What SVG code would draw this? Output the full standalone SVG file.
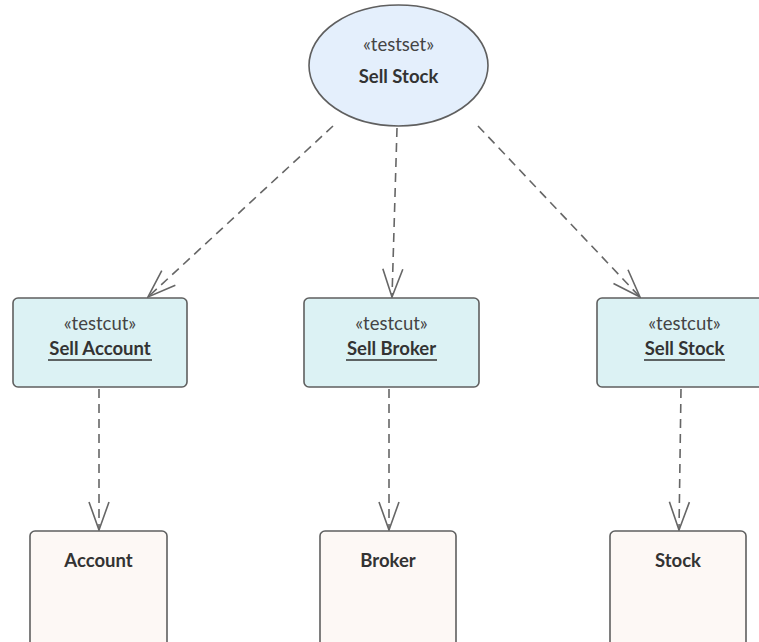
<svg xmlns="http://www.w3.org/2000/svg" width="759" height="642" viewBox="0 0 759 642">
<defs>
<marker id="open" viewBox="0 0 30 24" refX="29" refY="12" markerWidth="30" markerHeight="24" markerUnits="userSpaceOnUse" orient="auto">
<path d="M1,2 L29,12 L1,22" fill="none" stroke="#666" stroke-width="1.6"/>
</marker>
<style>
.ell{fill:#E4EFFC;stroke:#5f5f5f;stroke-width:1.6}
.cut{fill:#DCF2F4;stroke:#5f5f5f;stroke-width:1.6}
.cls{fill:#FDF8F5;stroke:#5f5f5f;stroke-width:1.6}
.st{font-family:Lato,"Open Sans","Liberation Sans",sans-serif;font-size:18.5px;fill:#444;text-anchor:middle}
.nm{font-family:Lato,"Open Sans","Liberation Sans",sans-serif;font-size:18.5px;font-weight:bold;fill:#333;text-anchor:middle}
.ul{stroke:#333;stroke-width:1.5}
.dep{fill:none;stroke:#666;stroke-width:1.6;stroke-dasharray:9,6;marker-end:url(#open)}
</style>
</defs>
<rect width="759" height="642" fill="#fff"/>
<g id="connectors">
<line class="dep" x1="333" y1="126" x2="148" y2="297"/>
<line class="dep" x1="397" y1="128" x2="392" y2="297"/>
<line class="dep" x1="478" y1="126" x2="640" y2="297"/>
<line class="dep" x1="99" y1="389" x2="99" y2="530"/>
<line class="dep" x1="389" y1="389" x2="389" y2="530"/>
<line class="dep" x1="681" y1="389" x2="679" y2="530"/>
</g>
<g id="testset-sell-stock">
<ellipse class="ell" cx="398.5" cy="65.5" rx="89.5" ry="60.5"/>
<text class="st" x="398.5" y="51">«testset»</text>
<text class="nm" x="398.5" y="83">Sell Stock</text>
</g>
<g id="testcut-sell-account">
<rect class="cut" x="13" y="298" width="174" height="89" rx="5"/>
<text class="st" x="100" y="330">«testcut»</text>
<text class="nm" x="100" y="355">Sell Account</text>
<line class="ul" x1="48" y1="360" x2="152" y2="360"/>
</g>
<g id="testcut-sell-broker">
<rect class="cut" x="304" y="298" width="175" height="89" rx="5"/>
<text class="st" x="391.5" y="330">«testcut»</text>
<text class="nm" x="391.5" y="355">Sell Broker</text>
<line class="ul" x1="346" y1="360" x2="437" y2="360"/>
</g>
<g id="testcut-sell-stock">
<rect class="cut" x="597" y="298" width="175" height="89" rx="5"/>
<text class="st" x="684.5" y="330">«testcut»</text>
<text class="nm" x="684.5" y="355">Sell Stock</text>
<line class="ul" x1="644" y1="360" x2="725" y2="360"/>
</g>
<g id="class-account">
<rect class="cls" x="30" y="531" width="137" height="120" rx="5"/>
<text class="nm" x="98.5" y="567">Account</text>
</g>
<g id="class-broker">
<rect class="cls" x="320" y="531" width="136" height="120" rx="5"/>
<text class="nm" x="388" y="567">Broker</text>
</g>
<g id="class-stock">
<rect class="cls" x="610" y="531" width="136" height="120" rx="5"/>
<text class="nm" x="678" y="567">Stock</text>
</g>
</svg>
